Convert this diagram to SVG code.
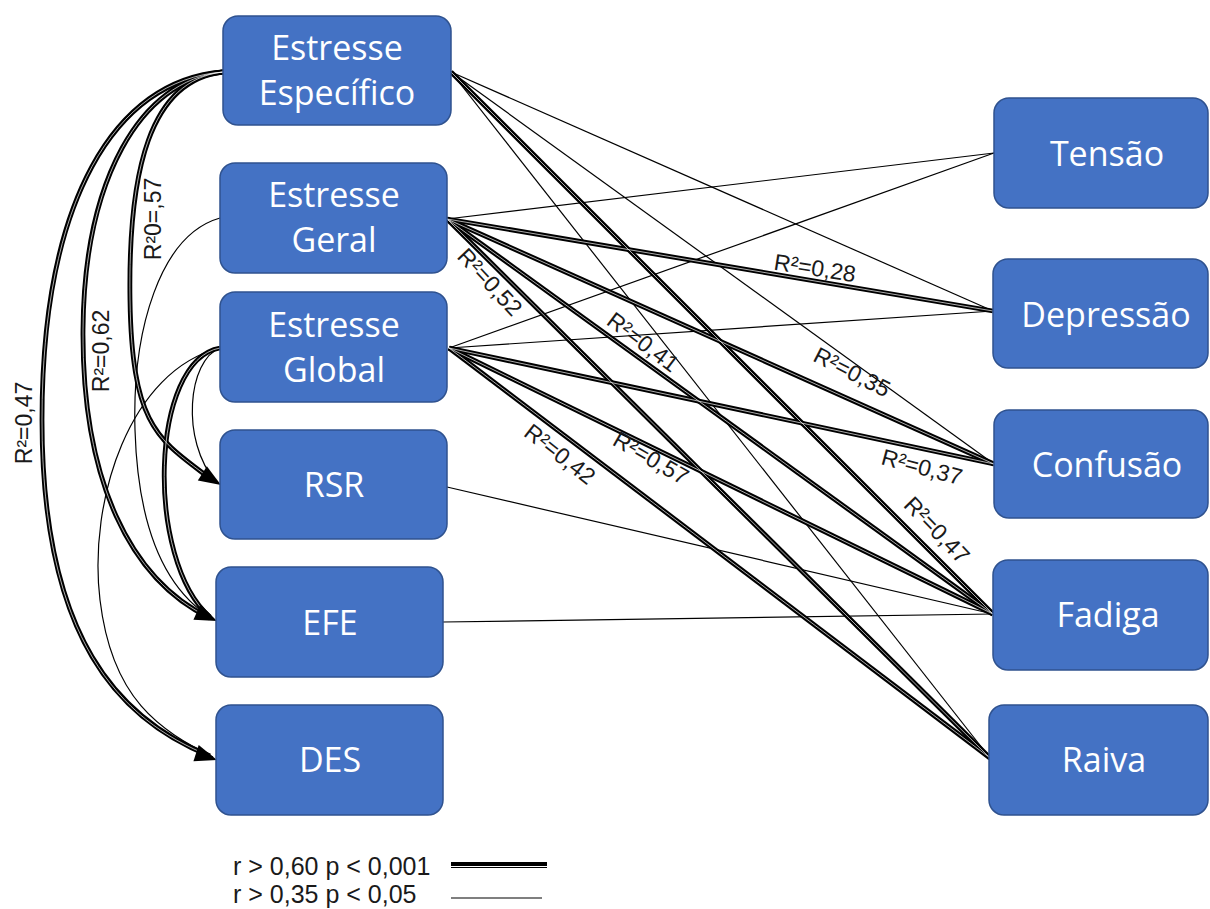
<svg xmlns="http://www.w3.org/2000/svg" xmlns:xlink="http://www.w3.org/1999/xlink" width="1210" height="909" viewBox="0 0 1210 909">
<style>
.box{fill:#4472C4;stroke:#2F528F;stroke-width:1.5}
.nt{font-family:"Open Sans","Noto Sans",sans-serif;font-size:34px;fill:#fff;text-anchor:middle}
.lb{font-family:"Liberation Sans",Arial,sans-serif;font-size:23px;fill:#1a1a1a;text-anchor:middle}
.lg{font-family:"Liberation Sans",Arial,sans-serif;font-size:25px;fill:#1a1a1a}
.thick{fill:none;stroke:#000;stroke-width:4.8}
.inner{fill:none;stroke:#fff;stroke-width:0.8;stroke-opacity:0.85}
.thin{fill:none;stroke:#000;stroke-width:1.2}
.arrow{fill:#000}
</style>
<defs>
<polygon id="ah" points="0,0 -22,-8.5 -22,8.5"/>
</defs>
<rect width="1210" height="909" fill="#fff"/>
<g id="connectors">
<g class="thin">
<path d="M451,72 L993,311"/>
<path d="M451,72 L994,464"/>
<path d="M451,72 L990,758"/>
<path d="M447,219 L994,153"/>
<path d="M449,348 L994,153"/>
<path d="M449,348 L993,311"/>
<path d="M447,487 L993,614"/>
<path d="M443,622 L993,614"/>
<path d="M220,218 C160,235 132,330 135,430 S165,590 213,619"/>
<path d="M220,348 C188,360 180,440 216,482"/>
<path d="M220,348 C130,370 88,500 100,600 S160,730 213,757"/>
</g>
<g class="thick">
<path id="t1" d="M451,72 L993,614"/>
<path id="t2" d="M447,219 L993,311"/>
<path id="t3" d="M447,219 L994,464"/>
<path id="t4" d="M447,219 L993,614"/>
<path id="t5" d="M447,219 L990,758"/>
<path id="t6" d="M449,348 L994,464"/>
<path id="t7" d="M449,348 L993,614"/>
<path id="t8" d="M449,348 L990,758"/>
<path id="c1" d="M223,72 C150,80 128,170 130,300 S160,440 212,480"/>
<path id="c2" d="M223,72 C140,80 84,180 83,330 S130,580 210,618"/>
<path id="c3" d="M223,72 C115,80 42,200 42,420 S120,720 210,756"/>
<path id="c6" d="M220,348 C150,360 145,560 210,617"/>
<path id="lgt" d="M451,865 L547,865" style="stroke-width:6"/>
</g>
<g class="inner">
<use xlink:href="#t1"/><use xlink:href="#t2"/><use xlink:href="#t3"/><use xlink:href="#t4"/>
<use xlink:href="#t5"/><use xlink:href="#t6"/><use xlink:href="#t7"/><use xlink:href="#t8"/>
<use xlink:href="#c1"/><use xlink:href="#c2"/><use xlink:href="#c3"/><use xlink:href="#c6"/>
</g>
<path d="M451,866.5 L547,866.5" fill="none" stroke="#fff" stroke-width="1"/>
<path class="thin" d="M451,898 L542,898"/>
<g class="arrow">
<use xlink:href="#ah" transform="translate(221,485) rotate(32)"/>
<use xlink:href="#ah" transform="translate(217,621) rotate(24)"/>
<use xlink:href="#ah" transform="translate(217,760) rotate(18)"/>
</g>
<g id="edge-labels">
<text class="lb" transform="translate(153,219) rotate(-90)" dy="8">R²0=,57</text>
<text class="lb" transform="translate(101,351) rotate(-90)" dy="8">R²=0,62</text>
<text class="lb" transform="translate(24,423) rotate(-90)" dy="8">R²=0,47</text>
<text class="lb" transform="translate(815,268) rotate(9)" dy="8">R²=0,28</text>
<text class="lb" transform="translate(490,282) rotate(47)" dy="8">R²=0,52</text>
<text class="lb" transform="translate(643,342) rotate(37)" dy="8">R²=0,41</text>
<text class="lb" transform="translate(852,372) rotate(27)" dy="8">R²=0,35</text>
<text class="lb" transform="translate(922,467) rotate(15)" dy="8">R²=0,37</text>
<text class="lb" transform="translate(937,530) rotate(46)" dy="8">R²=0,47</text>
<text class="lb" transform="translate(560,454) rotate(38)" dy="8">R²=0,42</text>
<text class="lb" transform="translate(651,458) rotate(30)" dy="8">R²=0,57</text>
</g>
</g>
<g id="node-especifico"><rect class="box" x="223" y="16" width="228" height="109" rx="15"/><text class="nt" x="337" y="60">Estresse</text><text class="nt" x="337" y="105">Específico</text></g>
<g id="node-geral"><rect class="box" x="220" y="163" width="227" height="110" rx="15"/><text class="nt" x="334" y="207">Estresse</text><text class="nt" x="334" y="252">Geral</text></g>
<g id="node-global"><rect class="box" x="220" y="292" width="227" height="110" rx="15"/><text class="nt" x="334" y="337">Estresse</text><text class="nt" x="334" y="382">Global</text></g>
<g id="node-rsr"><rect class="box" x="220" y="430" width="227" height="109" rx="15"/><text class="nt" x="334" y="497">RSR</text></g>
<g id="node-efe"><rect class="box" x="216" y="567" width="227" height="110" rx="15"/><text class="nt" x="330" y="635">EFE</text></g>
<g id="node-des"><rect class="box" x="216" y="705" width="227" height="110" rx="15"/><text class="nt" x="330" y="772">DES</text></g>
<g id="node-tensao"><rect class="box" x="994" y="98" width="214" height="110" rx="15"/><text class="nt" x="1107" y="166">Tensão</text></g>
<g id="node-depressao"><rect class="box" x="993" y="259" width="215" height="109" rx="15"/><text class="nt" x="1106" y="327">Depressão</text></g>
<g id="node-confusao"><rect class="box" x="994" y="410" width="214" height="108" rx="15"/><text class="nt" x="1107" y="477">Confusão</text></g>
<g id="node-fadiga"><rect class="box" x="993" y="560" width="215" height="110" rx="15"/><text class="nt" x="1108" y="627">Fadiga</text></g>
<g id="node-raiva"><rect class="box" x="989" y="705" width="219" height="110" rx="15"/><text class="nt" x="1104" y="772">Raiva</text></g>
<g id="legend">
<text class="lg" x="233" y="875">r &gt; 0,60 p &lt; 0,001</text>
<text class="lg" x="233" y="903">r &gt; 0,35 p &lt; 0,05</text>
</g>
</svg>
